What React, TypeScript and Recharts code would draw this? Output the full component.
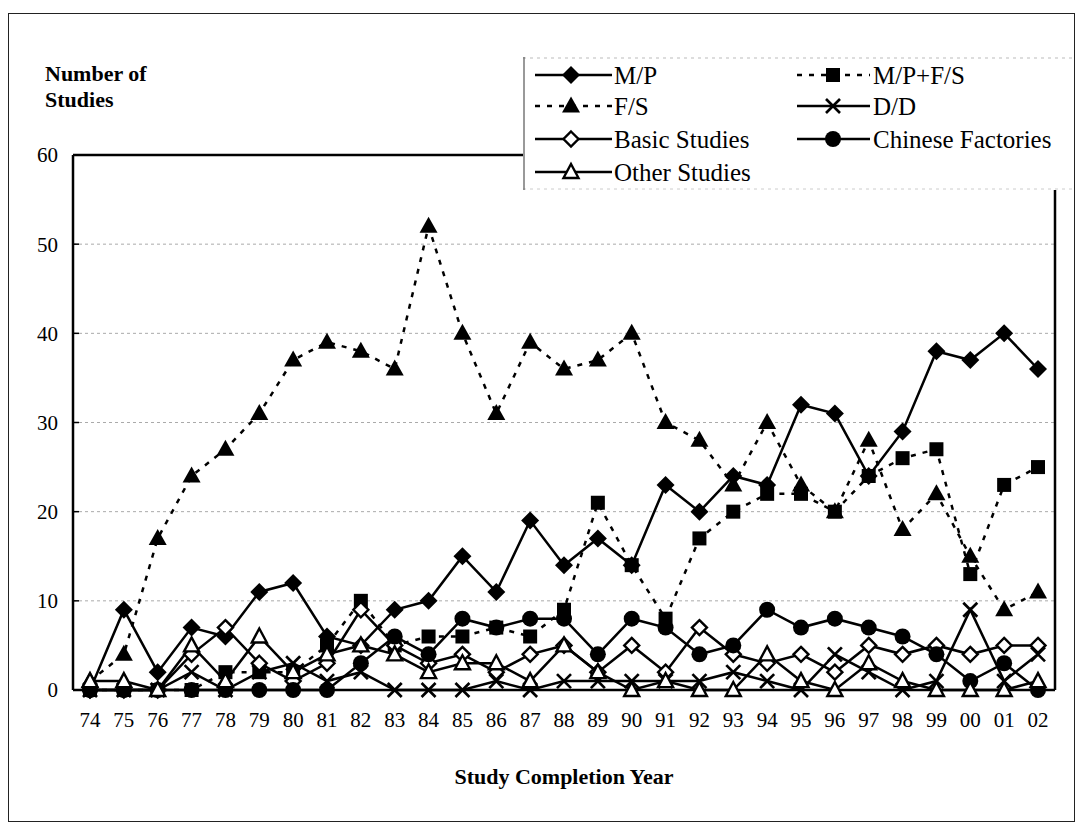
import React from 'react';
import { LineChart, Line, XAxis, YAxis, CartesianGrid, ReferenceLine, Legend } from 'recharts';

const years = ['74','75','76','77','78','79','80','81','82','83','84','85','86','87','88','89','90','91','92','93','94','95','96','97','98','99','00','01','02'];
const mpValues = [0,9,2,7,6,11,12,6,5,9,10,15,11,19,14,17,14,23,20,24,23,32,31,24,29,38,37,40,36];
const mpfsValues = [0,0,0,0,2,2,2,5,10,5,6,6,7,6,9,21,14,8,17,20,22,22,20,24,26,27,13,23,25];
const fsValues = [1,4,17,24,27,31,37,39,38,36,52,40,31,39,36,37,40,30,28,23,30,23,20,28,18,22,15,9,11];
const ddValues = [0,0,0,2,0,2,3,1,2,0,0,0,1,0,1,1,1,1,1,2,1,0,4,2,0,1,9,1,4];
const basicValues = [0,0,0,4,7,3,1,3,9,5,3,4,2,4,5,2,5,2,7,4,3,4,2,5,4,5,4,5,5];
const chineseValues = [0,0,0,0,0,0,0,0,3,6,4,8,7,8,8,4,8,7,4,5,9,7,8,7,6,4,1,3,0];
const otherValues = [1,1,0,5,1,6,2,4,5,4,2,3,3,1,5,2,0,1,0,0,4,1,0,3,1,0,0,0,1];
const yTicks = [0,10,20,30,40,50,60];

const data = years.map((year, i) => ({
  year,
  mp: mpValues[i],
  mpfs: mpfsValues[i],
  fs: fsValues[i],
  dd: ddValues[i],
  basic: basicValues[i],
  chinese: chineseValues[i],
  other: otherValues[i],
}));

type Kind = 'diamond' | 'square' | 'triangle' | 'cross' | 'openDiamond' | 'circle' | 'openTriangle';

const series: { key: string; name: string; kind: Kind; dashed: boolean }[] = [
  { key: 'mp', name: 'M/P', kind: 'diamond', dashed: false },
  { key: 'mpfs', name: 'M/P+F/S', kind: 'square', dashed: true },
  { key: 'fs', name: 'F/S', kind: 'triangle', dashed: true },
  { key: 'dd', name: 'D/D', kind: 'cross', dashed: false },
  { key: 'basic', name: 'Basic Studies', kind: 'openDiamond', dashed: false },
  { key: 'chinese', name: 'Chinese Factories', kind: 'circle', dashed: false },
  { key: 'other', name: 'Other Studies', kind: 'openTriangle', dashed: false },
];

const FONT = '"Liberation Serif", "Times New Roman", serif';
const DASH = '5 7';
const SW = 2.5;

function Marker({ kind, cx, cy }: { kind: Kind; cx: number; cy: number }) {
  switch (kind) {
    case 'diamond': {
      const r = 9;
      return <polygon points={`${cx},${cy - r} ${cx + r},${cy} ${cx},${cy + r} ${cx - r},${cy}`} fill="#000" />;
    }
    case 'square': {
      const s = 7;
      return <rect x={cx - s} y={cy - s} width={2 * s} height={2 * s} fill="#000" />;
    }
    case 'triangle':
      return <polygon points={`${cx},${cy - 9.5} ${cx + 9},${cy + 6.5} ${cx - 9},${cy + 6.5}`} fill="#000" />;
    case 'cross': {
      const r = 7;
      return (
        <g stroke="#000" strokeWidth={2.7}>
          <line x1={cx - r} y1={cy - r} x2={cx + r} y2={cy + r} />
          <line x1={cx - r} y1={cy + r} x2={cx + r} y2={cy - r} />
        </g>
      );
    }
    case 'openDiamond': {
      const r = 7.5;
      return <polygon points={`${cx},${cy - r} ${cx + r},${cy} ${cx},${cy + r} ${cx - r},${cy}`} fill="#fff" stroke="#000" strokeWidth={2.4} />;
    }
    case 'circle':
      return <circle cx={cx} cy={cy} r={8} fill="#000" />;
    case 'openTriangle':
      return <polygon points={`${cx},${cy - 8} ${cx + 7.5},${cy + 6} ${cx - 7.5},${cy + 6}`} fill="#fff" stroke="#000" strokeWidth={2.4} />;
  }
  return null;
}

function LegendBox() {
  const rows = [18, 49, 82, 115];
  const cols = [
    { x1: 12, x2: 89, mx: 48, tx: 91 },
    { x1: 274, x2: 347, mx: 310, tx: 350 },
  ];
  const placement = [
    [0, 0], [1, 0], [0, 1], [1, 1], [0, 2], [1, 2], [0, 3],
  ];
  return (
    <svg width={552} height={133} style={{ display: 'block' }}>
      <rect x={0} y={0} width={552} height={133} fill="#fff" />
      <line x1={0} y1={1} x2={552} y2={1} stroke="#bbb" strokeWidth={1} strokeDasharray="3 4" />
      <line x1={0} y1={132} x2={552} y2={132} stroke="#ccc" strokeWidth={1} strokeDasharray="3 4" />
      <line x1={1} y1={0} x2={1} y2={133} stroke="#555" strokeWidth={1.2} />
      {series.map((s, i) => {
        const [c, r] = placement[i];
        const col = cols[c];
        const y = rows[r];
        return (
          <g key={s.key}>
            <line x1={col.x1} y1={y} x2={col.x2} y2={y} stroke="#000" strokeWidth={SW} strokeDasharray={s.dashed ? DASH : undefined} />
            <Marker kind={s.kind} cx={col.mx} cy={y} />
            <text x={col.tx} y={y} dominantBaseline="central" fontFamily={FONT} fontSize={25} fill="#000">{s.name}</text>
          </g>
        );
      })}
    </svg>
  );
}

export default function App() {
  return (
    <div style={{ paddingTop: 5 }}>
      <div style={{ position: 'relative', width: 1067, height: 809, fontFamily: FONT }}>
        <LineChart width={1067} height={809} data={data} margin={{ top: 142, right: 0, left: 0, bottom: 92 }}>
          <CartesianGrid vertical={false} stroke="#aaa" strokeDasharray="3 3" />
          <XAxis
            dataKey="year"
            height={40}
            padding={{ left: 17, right: 17 }}
            tickLine={false}
            tickSize={8}
            tickMargin={14}
            axisLine={{ stroke: '#000', strokeWidth: 2.5 }}
            tick={{ fill: '#000', fontSize: 21, fontFamily: FONT }}
            interval={0}
          />
          <YAxis
            width={65}
            domain={[0, 60]}
            ticks={yTicks}
            tickSize={-6}
            tickMargin={21}
            tickLine={{ stroke: '#000', strokeWidth: 1.5 }}
            axisLine={{ stroke: '#000', strokeWidth: 2.5 }}
            tick={{ fill: '#000', fontSize: 21, fontFamily: FONT }}
            interval={0}
          />
          <YAxis
            yAxisId="r"
            orientation="right"
            width={20}
            domain={[0, 60]}
            tick={false}
            tickLine={false}
            axisLine={{ stroke: '#000', strokeWidth: 2.5 }}
          />
          <ReferenceLine y={60} stroke="#000" strokeWidth={2.5} />
          {series.map((s) => (
            <Line
              key={s.key}
              dataKey={s.key}
              name={s.name}
              type="linear"
              stroke="#000"
              strokeWidth={SW}
              strokeDasharray={s.dashed ? DASH : undefined}
              isAnimationActive={false}
              activeDot={false}
              dot={(p: any) => (
                <g key={`${s.key}-${p.index}`}>
                  <Marker kind={s.kind} cx={p.cx} cy={p.cy} />
                </g>
              )}
            />
          ))}
          <Legend
            layout="horizontal"
            verticalAlign="middle"
            align="center"
            wrapperStyle={{ left: 515, top: 44, width: 552, height: 133 }}
            content={() => <LegendBox />}
          />
        </LineChart>
        <div style={{ position: 'absolute', left: 37, top: 48, fontWeight: 'bold', fontSize: 22, lineHeight: '26px', color: '#000' }}>
          Number of<br />Studies
        </div>
        <div style={{ position: 'absolute', left: 65, width: 982, top: 751, textAlign: 'center', fontWeight: 'bold', fontSize: 22, color: '#000' }}>
          Study Completion Year
        </div>
        <div style={{ position: 'absolute', left: 0, top: 0, width: 1067, height: 809, border: '1.5px solid #222', boxSizing: 'border-box', pointerEvents: 'none' }} />
      </div>
    </div>
  );
}
